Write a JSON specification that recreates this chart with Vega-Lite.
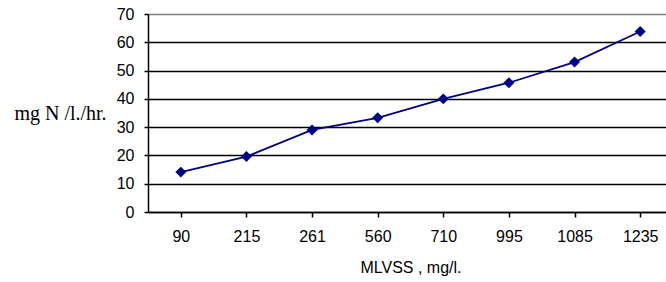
{
  "$schema": "https://vega.github.io/schema/vega-lite/v6.json",
  "autosize": "none",
  "width": 525,
  "height": 198,
  "padding": {"left": 148, "top": 14, "right": 0, "bottom": 70},
  "background": "white",
  "config": {"view": {"stroke": null}},
  "data": {"values": [
    {"MLVSS": "90", "rate": 14.1},
    {"MLVSS": "215", "rate": 19.6},
    {"MLVSS": "261", "rate": 29.0},
    {"MLVSS": "560", "rate": 33.3},
    {"MLVSS": "710", "rate": 40.0},
    {"MLVSS": "995", "rate": 45.7},
    {"MLVSS": "1085", "rate": 53.0},
    {"MLVSS": "1235", "rate": 63.8}
  ]},
  "mark": {"type": "line", "color": "#000080", "strokeWidth": 1.8, "point": {"shape": "diamond", "size": 120, "filled": true, "color": "#000080", "opacity": 1}},
  "encoding": {
    "x": {
      "field": "MLVSS", "type": "ordinal", "sort": null,
      "scale": {"paddingInner": 0, "paddingOuter": 0},
      "axis": {
        "title": "MLVSS , mg/l.",
        "titleFont": "Liberation Sans", "titleFontSize": 16, "titleFontWeight": "normal", "titleColor": "black",
        "titleBaseline": "middle", "titleY": 55,
        "labelFont": "Liberation Sans", "labelFontSize": 16, "labelColor": "black", "labelAngle": 0,
        "labelPadding": 11, "tickSize": 5, "tickColor": "black", "tickWidth": 1.5,
        "domainColor": "black", "domainWidth": 1.5, "bandPosition": 0, "grid": false
      }
    },
    "y": {
      "field": "rate", "type": "quantitative",
      "scale": {"domain": [0, 70], "nice": false},
      "axis": {
        "title": "mg N /l./hr.", "titleAngle": 0, "titleFont": "Liberation Serif", "titleFontSize": 20, "titleFontWeight": "normal", "titleColor": "black",
        "titleAlign": "center", "titleBaseline": "middle", "titleX": -88, "titleY": 99,
        "values": [0, 10, 20, 30, 40, 50, 60, 70],
        "labelFont": "Liberation Sans", "labelFontSize": 16, "labelColor": "black",
        "labelPadding": 10, "tickSize": 4, "tickColor": "black", "tickWidth": 1.5,
        "domainColor": "black", "domainWidth": 1.5,
        "grid": true, "gridWidth": 1.5,
        "gridColor": {"condition": {"test": "datum.value == 70", "value": "#808080"}, "value": "black"}
      }
    }
  }
}
